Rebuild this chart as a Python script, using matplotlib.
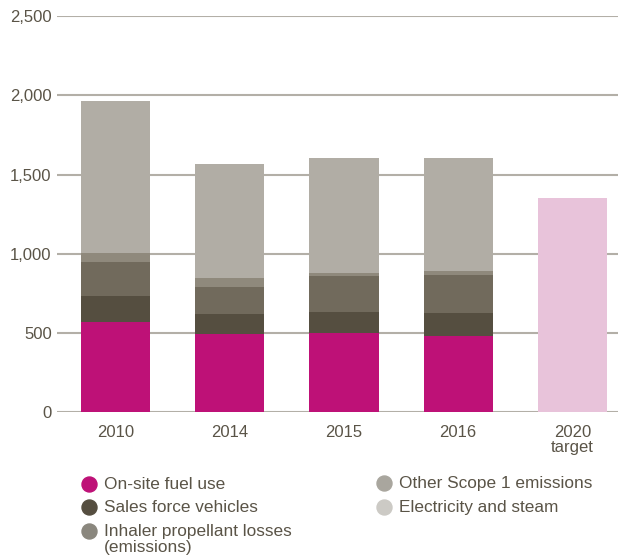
import numpy as np
import matplotlib
matplotlib.use('Agg')
import matplotlib.pyplot as plt
from matplotlib.lines import Line2D

plt.rcParams['font.family'] = ['Liberation Sans', 'DejaVu Sans']

# data (tonnes CO2e)
years = ['2010', '2014', '2015', '2016', '2020\ntarget']
onsite_fuel = [568, 493, 497, 478, 0]
sales_force = [163, 124, 132, 145, 0]
inhaler_losses = [214, 170, 228, 240, 0]
other_scope1 = [57, 57, 19, 25, 0]
electricity_steam = [965, 724, 728, 717, 0]
target_2020 = [0, 0, 0, 0, 1352]

legend_labels = ['On-site fuel use', 'Sales force vehicles',
                 'Inhaler propellant losses\n(emissions)',
                 'Other Scope 1 emissions', 'Electricity and steam']

bar_colors = ['#BE1177', '#554E40', '#716A5C', '#8F897C', '#B1ADA5']
legend_colors = ['#BE1177', '#554E40', '#8A877E', '#A9A69E', '#CCCAC5']
target_color = '#E8C3DA'
text_color = '#5A5447'
grid_color = '#B3AFA7'
fs = 12
fs_leg = 12.4

fig = plt.figure(figsize=(6.18, 5.58), dpi=100)
ax = fig.add_axes([57 / 618, 1 - 412 / 558, 1 - 57 / 618, (412 - 16.3) / 558])

x = np.arange(len(years))
width = 0.605
bottom = np.zeros(len(years))
for vals, col in zip([onsite_fuel, sales_force, inhaler_losses, other_scope1, electricity_steam], bar_colors):
    ax.bar(x, vals, width, bottom=bottom, color=col, zorder=3, linewidth=0)
    bottom += np.array(vals)
ax.bar(x, target_2020, width, color=target_color, zorder=3, linewidth=0)

ax.set_ylim(0, 2500)
ax.set_xlim(-0.514, 4.40)
ax.set_yticks(np.arange(0, 2501, 500))
ax.set_yticklabels([f'{v:,}' for v in range(0, 2501, 500)])
ax.set_xticks(x)
ax.set_xticklabels(years, linespacing=1.0)
ax.yaxis.grid(True, color=grid_color, linewidth=1.5, zorder=0)
ax.tick_params(axis='y', length=0, pad=3.8, labelsize=fs, labelcolor=text_color)
ax.tick_params(axis='x', length=0, pad=9.5, labelsize=fs, labelcolor=text_color)
for s in ax.spines.values():
    s.set_visible(False)

# legend, two columns
pos = [(89, 484), (89, 507), (89, 531), (384, 483), (384, 507)]
for (px, py), lab, col in zip(pos, legend_labels, legend_colors):
    fig.add_artist(Line2D([px / 618], [1 - py / 558], marker='o', markersize=10.8,
                          color=col, linestyle='none', transform=fig.transFigure))
    fig.text((px + 15) / 618, 1 - (py - 7) / 558, lab, fontsize=fs_leg, color=text_color,
             va='top', ha='left', linespacing=1.05)

fig.savefig('out.png', dpi=100)
